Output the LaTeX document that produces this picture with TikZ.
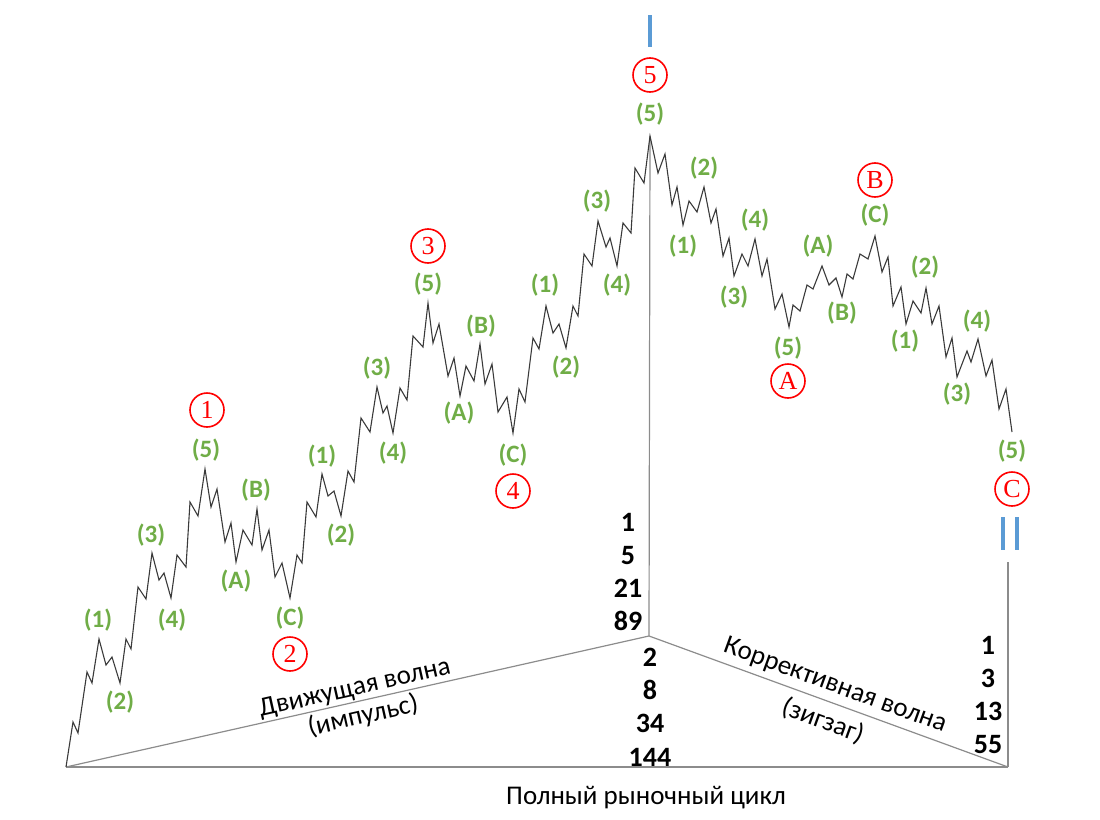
\documentclass[tikz,border=0pt]{standalone}
\usepackage{fontspec}
\setmainfont{Carlito}
\newfontfamily\rfont{Liberation Serif}
\definecolor{gr}{HTML}{70AD47}
\definecolor{bl}{HTML}{5B9BD5}
\definecolor{wv}{HTML}{3A3A3A}
\definecolor{ax}{HTML}{8C8C8C}
\begin{document}
\begin{tikzpicture}[x=1pt,y=-1pt,
  wave/.style={draw=wv,line width=1.1pt,line join=miter},
  axis/.style={draw=ax,line width=1.2pt},
  glab/.style={text=gr,font=\bfseries\fontsize{25}{25}\selectfont,inner sep=0pt},
  rlab/.style={circle,draw=red,line width=1.6pt,minimum size=34pt,inner sep=0pt,text=red,font=\rfont\fontsize{26}{26}\selectfont},
  numcol/.style={align=center,font=\bfseries\fontsize{28}{33.3}\selectfont,inner sep=0pt},
  caption/.style={font=\fontsize{27}{27}\selectfont,inner sep=0pt},
  bluebar/.style={draw=bl,line width=4.5pt}]
\useasboundingbox (0,0) rectangle (1100,819);
% frame coordinates
\coordinate (O) at (66,767);
\coordinate (M) at (649,636);
\coordinate (R) at (1008,767);
\coordinate (Rt) at (1008,562);
\coordinate (P) at (650,136);
\draw[axis] (O) -- (R);
\draw[axis] (O) -- (M) -- (R);
\draw[axis] (P) -- (M);
\draw[axis] (Rt) -- (R);
% wave
\draw[wave] plot coordinates {(66,767) (73,722) (78,733) (87,672) (92,683) (99,639) (106,665) (112,657) (120,683) (126,639) (131,649) (138,587) (146,599) (152,553) (159,580) (164,573) (171,598) (177,555) (186,567) (190,502) (198,516) (205,469) (211,507) (217,489) (225,542) (231,523) (236,562) (243,530) (252,545) (257,509) (262,550) (269,530) (275,577) (282,563) (290,598) (297,555) (302,563) (307,502) (316,517) (322,474) (328,496) (334,491) (341,516) (348,471) (354,482) (361,418) (370,432) (377,387) (383,413) (387,406) (393,433) (400,388) (407,400) (413,336) (423,347) (428,303) (433,343) (439,324) (448,376) (454,358) (460,396) (466,366) (474,381) (480,344) (485,384) (492,364) (498,412) (507,397) (513,433) (519,389) (525,402) (533,338) (539,349) (546,306) (553,333) (559,324) (566,348) (573,306) (578,316) (584,254) (592,266) (598,221) (606,247) (610,238) (617,266) (623,223) (631,233) (635,168) (644,183) (650,136) (658,173) (665,154) (672,205) (677,187) (683,225) (689,201) (697,212) (704,187) (711,223) (716,209) (723,256) (729,238) (734,276) (742,254) (748,266) (755,239) (762,276) (767,259) (775,309) (782,294) (789,327) (793,305) (800,311) (807,285) (813,289) (822,266) (829,285) (836,278) (842,297) (847,274) (853,279) (860,254) (868,259) (875,236) (882,272) (888,257) (893,306) (901,287) (906,324) (913,301) (921,313) (926,288) (932,324) (939,306) (946,357) (952,338) (957,377) (967,351) (971,362) (978,339) (986,376) (992,360) (999,409) (1006,389) (1012,432)};
% blue bars
\coordinate (b1t) at (650,15); \coordinate (b1b) at (650,47);
\coordinate (b2t) at (1003,517); \coordinate (b2b) at (1003,550);
\coordinate (b3t) at (1017,517); \coordinate (b3b) at (1017,550);
\draw[bluebar] (b1t) -- (b1b);
\draw[bluebar] (b2t) -- (b2b);
\draw[bluebar] (b3t) -- (b3b);
% red circled labels
\node[rlab] (r1) at (207,410) {1};
\node[rlab] (r2) at (290,654) {2};
\node[rlab] (r3) at (428,246) {3};
\node[rlab] (r4) at (513,491) {4};
\node[rlab] (r5) at (650,75) {5};
\node[rlab] (rA) at (788,381) {A};
\node[rlab] (rB) at (875,180) {B};
\node[rlab] (rC) at (1012,489) {C};
% green labels wave 1 and 2
\node[glab] (g1) at (98,620) {(1)};
\node[glab] (g2) at (120,702) {(2)};
\node[glab] (g3) at (151,535) {(3)};
\node[glab] (g4) at (172,620) {(4)};
\node[glab] (g5) at (206,450) {(5)};
\node[glab] (g6) at (236,581) {(A)};
\node[glab] (g7) at (256,490) {(B)};
\node[glab] (g8) at (290,618) {(C)};
% waves 3 and 4
\node[glab] (h1) at (322,456) {(1)};
\node[glab] (h2) at (341,535) {(2)};
\node[glab] (h3) at (377,368) {(3)};
\node[glab] (h4) at (393,453) {(4)};
\node[glab] (h5) at (428,284) {(5)};
\node[glab] (h6) at (459,413) {(A)};
\node[glab] (h7) at (481,326) {(B)};
\node[glab] (h8) at (513,455) {(C)};
% wave 5
\node[glab] (k1) at (545,285) {(1)};
\node[glab] (k2) at (566,367) {(2)};
\node[glab] (k3) at (597,201) {(3)};
\node[glab] (k4) at (617,285) {(4)};
\node[glab] (k5) at (650,114) {(5)};
% wave A
\node[glab] (m1) at (683,246) {(1)};
\node[glab] (m2) at (704,168) {(2)};
\node[glab] (m3) at (734,297) {(3)};
\node[glab] (m4) at (755,220) {(4)};
\node[glab] (m5) at (788,348) {(5)};
% wave B
\node[glab] (n1) at (818,246) {(A)};
\node[glab] (n2) at (842,313) {(B)};
\node[glab] (n3) at (875,215) {(C)};
% wave C
\node[glab] (q1) at (905,341) {(1)};
\node[glab] (q2) at (925,267) {(2)};
\node[glab] (q3) at (957,394) {(3)};
\node[glab] (q4) at (977,321) {(4)};
\node[glab] (q5) at (1012,451) {(5)};
% number columns
\node[numcol] (c1) at (628,572) {1\\5\\21\\89};
\node[numcol] (c2) at (650,707) {2\\8\\34\\144};
\node[numcol] (c3) at (988,695) {1\\3\\13\\55};
% captions
\node[caption,rotate=12.66] (t1) at (355,689) {Движущая волна};
\node[caption,rotate=12.66] (t2) at (363,716) {(импульс)};
\node[caption,rotate=-20] (t3) at (835,686) {Коррективная волна};
\node[caption,rotate=-20] (t4) at (823,721) {(зигзаг)};
\node[caption] (t5) at (646,798) {Полный рыночный цикл};
\end{tikzpicture}
\end{document}
